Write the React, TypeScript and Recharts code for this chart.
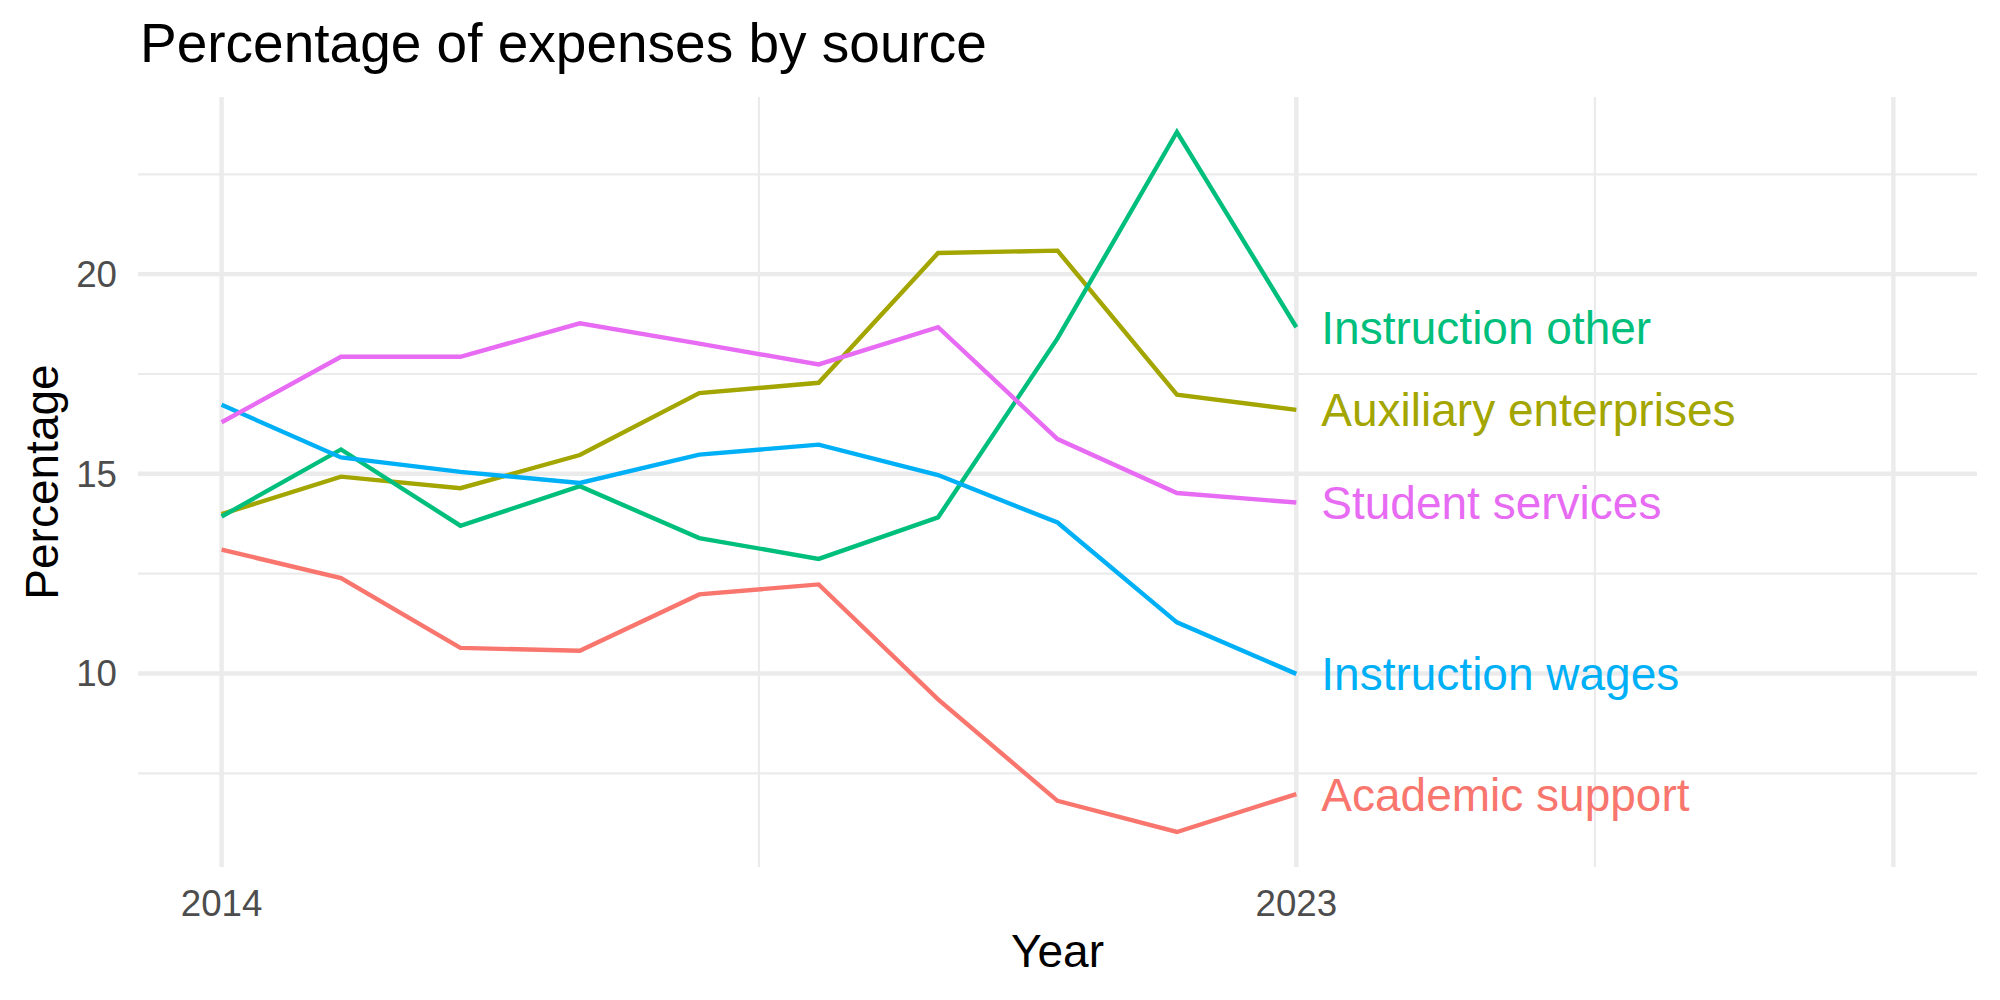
import { LineChart, Line, XAxis, YAxis, CartesianGrid, LabelList } from "recharts";

const years = [2014, 2015, 2016, 2017, 2018, 2019, 2020, 2021, 2022, 2023];
const academicSupport = [13.1, 12.39, 10.64, 10.57, 11.98, 12.23, 9.35, 6.81, 6.03, 6.98];
const auxiliaryEnterprises = [13.99, 14.93, 14.64, 15.47, 17.02, 17.28, 20.53, 20.59, 16.98, 16.6];
const instructionOther = [13.93, 15.61, 13.7, 14.69, 13.39, 12.87, 13.91, 18.39, 23.56, 18.67];
const instructionWages = [16.73, 15.41, 15.05, 14.77, 15.48, 15.73, 14.97, 13.78, 11.28, 9.99];
const studentServices = [16.29, 17.93, 17.93, 18.77, 18.26, 17.74, 18.67, 15.87, 14.52, 14.28];

const xTicks = [2014, 2023];
const yTicks = [10, 15, 20];
const xMajor = [2014, 2023, 2028];
const xMinor = [2018.5, 2025.5];
const yMajor = [10, 15, 20];
const yMinor = [7.5, 12.5, 17.5, 22.5];

const series = [
  { key: "academic", name: "Academic support", color: "#F8766D", values: academicSupport },
  { key: "auxiliary", name: "Auxiliary enterprises", color: "#A3A500", values: auxiliaryEnterprises },
  { key: "other", name: "Instruction other", color: "#00BF7D", values: instructionOther },
  { key: "wages", name: "Instruction wages", color: "#00B0F6", values: instructionWages },
  { key: "student", name: "Student services", color: "#E76BF3", values: studentServices },
];

const data = years.map((year, i) => {
  const row: Record<string, number> = { year };
  series.forEach((s) => {
    row[s.key] = s.values[i];
  });
  return row;
});

const FONT = "'Liberation Sans', Arial, Helvetica, sans-serif";
const last = years.length - 1;

const XTick = ({ x, y, payload }: any) => (
  <text x={x} y={y + 49} textAnchor="middle" fontSize={36.7} fill="#4D4D4D" fontFamily={FONT}>
    {payload.value}
  </text>
);

const YTick = ({ x, y, payload }: any) => (
  <text x={x - 21} y={y + 13} textAnchor="end" fontSize={36.7} fill="#4D4D4D" fontFamily={FONT}>
    {payload.value}
  </text>
);

// name label just right of the last point of each line
const endLabel = (name: string, color: string) => (props: any) => {
  if (props.index !== last) return null;
  return (
    <text x={props.x + 25} y={props.y + 16.5} fontSize={46} fill={color} fontFamily={FONT}>
      {name}
    </text>
  );
};

export default function App() {
  return (
    <div style={{ position: "absolute", left: 0, top: 0, width: 2000, height: 1000, background: "#fff" }}>
      <LineChart width={2000} height={1000} data={data} margin={{ top: 97, right: 23, left: 0, bottom: 0 }}>
        <CartesianGrid horizontalValues={yMinor} verticalValues={xMinor} stroke="#EBEBEB" strokeWidth={2.2} />
        <CartesianGrid horizontalValues={yMajor} verticalValues={xMajor} stroke="#EBEBEB" strokeWidth={4.4} />
        <XAxis
          dataKey="year"
          type="number"
          domain={[2013.3, 2028.7]}
          ticks={xTicks}
          allowDataOverflow
          axisLine={false}
          tickLine={false}
          tickSize={0}
          tickMargin={0}
          height={133}
          tick={<XTick />}
          interval={0}
        />
        <YAxis
          type="number"
          domain={[5.1535, 24.4365]}
          ticks={yTicks}
          allowDataOverflow
          axisLine={false}
          tickLine={false}
          tickSize={0}
          tickMargin={0}
          width={138}
          tick={<YTick />}
          interval={0}
        />
        {series.map((s) => (
          <Line
            key={s.key}
            type="linear"
            dataKey={s.key}
            stroke={s.color}
            strokeWidth={4.4}
            dot={false}
            activeDot={false}
            isAnimationActive={false}
          >
            <LabelList dataKey={s.key} content={endLabel(s.name, s.color)} />
          </Line>
        ))}
      </LineChart>
      <svg width={2000} height={1000} style={{ position: "absolute", left: 0, top: 0, pointerEvents: "none" }}>
        <text x={140} y={62} fontSize={55} fill="#000" fontFamily={FONT}>
          Percentage of expenses by source
        </text>
        <text x={1057.5} y={967} fontSize={46} fill="#000" fontFamily={FONT} textAnchor="middle">
          Year
        </text>
        <text transform="translate(58,482) rotate(-90)" fontSize={46} fill="#000" fontFamily={FONT} textAnchor="middle">
          Percentage
        </text>
      </svg>
    </div>
  );
}
